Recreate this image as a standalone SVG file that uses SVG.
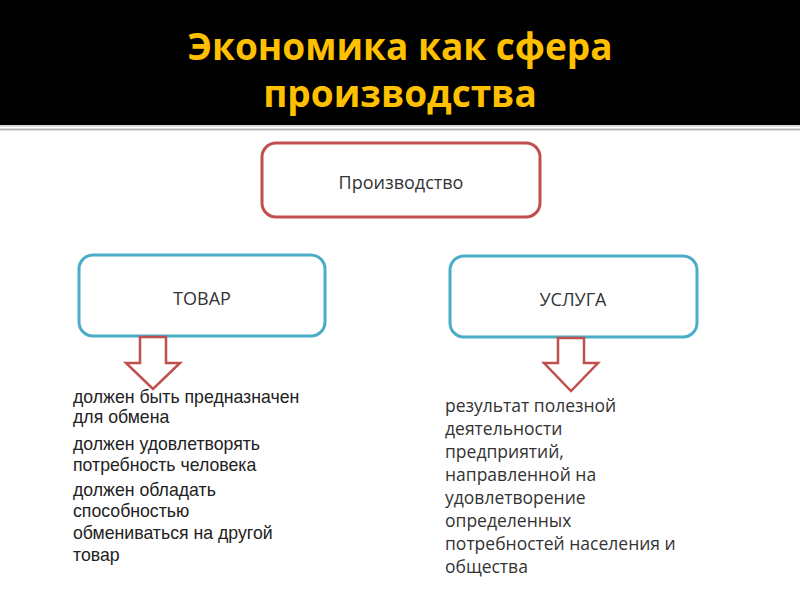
<svg xmlns="http://www.w3.org/2000/svg" width="800" height="600" viewBox="0 0 800 600">
<style>
.title{font-family:"Open Sans","Noto Sans",sans-serif;font-weight:bold;font-size:37px;fill:#FFC000;text-anchor:middle}
.red{fill:#fff;stroke:#C0504D;stroke-width:3}
.blue{fill:#fff;stroke:#4BACC6;stroke-width:3}
.lbl{font-family:"Open Sans","Noto Sans",sans-serif;font-size:18px;fill:#333;text-anchor:middle}
.arrow{fill:#fff;stroke:#C0504D;stroke-width:2.5;stroke-linejoin:miter}
.lt{font-family:"Liberation Sans",Arial,sans-serif;font-size:17.7px;fill:#222}
.rt{font-family:"Open Sans","Noto Sans",sans-serif;font-size:17.5px;fill:#333}
</style>
<rect x="0" y="0" width="800" height="600" fill="#fff"/>
<rect x="0" y="0" width="800" height="125" fill="#000"/>
<rect x="0" y="125" width="800" height="2" fill="#d8d8d8"/>
<rect x="0" y="128.5" width="800" height="2" fill="#b8b8b8"/>
<text class="title" x="400" y="60">Экономика как сфера</text>
<text class="title" x="400" y="107">производства</text>
<g id="node-production">
<rect class="red" x="262" y="143" width="278" height="74" rx="14"/>
<text class="lbl" x="401" y="189">Производство</text>
</g>
<g id="node-tovar">
<rect class="blue" x="79" y="255" width="246" height="81" rx="14"/>
<text class="lbl" x="202" y="305">ТОВАР</text>
</g>
<g id="node-usluga">
<rect class="blue" x="450" y="256" width="247" height="81" rx="14"/>
<text class="lbl" x="573" y="306">УСЛУГА</text>
</g>
<g id="connectors">
<path class="arrow" d="M140,337 H166 V363 H180 L153,389 L126,363 H140 Z"/>
<path class="arrow" d="M558,338 H584 V363 H598 L571,391 L544,363 H558 Z"/>
</g>
<g id="text-tovar">
<text class="lt" x="73" y="403">должен быть предназначен</text>
<text class="lt" x="73" y="423">для обмена</text>
<text class="lt" x="73" y="450">должен удовлетворять</text>
<text class="lt" x="73" y="471">потребность человека</text>
<text class="lt" x="73" y="496">должен обладать</text>
<text class="lt" x="73" y="517">способностью</text>
<text class="lt" x="73" y="539">обмениваться на другой</text>
<text class="lt" x="73" y="561">товар</text>
</g>
<g id="text-usluga">
<text class="rt" x="445" y="412">результат полезной</text>
<text class="rt" x="445" y="435">деятельности</text>
<text class="rt" x="445" y="458">предприятий,</text>
<text class="rt" x="445" y="481">направленной на</text>
<text class="rt" x="445" y="504">удовлетворение</text>
<text class="rt" x="445" y="527">определенных</text>
<text class="rt" x="445" y="550">потребностей населения и</text>
<text class="rt" x="445" y="573">общества</text>
</g>
</svg>
